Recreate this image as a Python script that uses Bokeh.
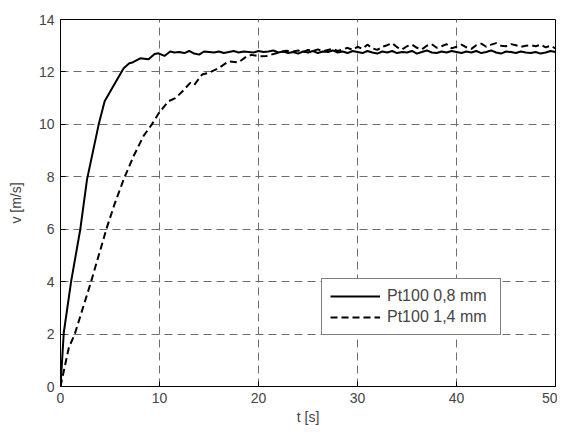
import numpy as np
from bokeh.plotting import figure
from bokeh.models import Range1d, Legend, LegendItem, FixedTicker
from bokeh.embed import file_html
from bokeh.resources import INLINE

# ---- data ----
t_thin_rise = [0, 0.33, 1.07, 2.0, 2.68, 3.86, 4.46, 5.4, 6.38, 6.95, 7.28, 8.06, 8.9, 9.5, 9.9, 10.5, 11.08]
v_thin_rise = [0, 2.05, 4.0, 6.0, 7.9, 10.0, 10.88, 11.5, 12.14, 12.33, 12.36, 12.52, 12.48, 12.68, 12.71, 12.61, 12.78]
t_thin_flat = list(np.round(np.arange(11.5, 50.001, 0.5), 2))
v_thin_flat = [12.74, 12.76, 12.72, 12.80, 12.70, 12.66, 12.78, 12.76, 12.74, 12.78,
               12.72, 12.76, 12.80, 12.74, 12.78, 12.76, 12.74, 12.80, 12.76, 12.78,
               12.82, 12.74, 12.78, 12.72, 12.76, 12.70, 12.78, 12.74, 12.80, 12.72,
               12.78, 12.76, 12.82, 12.74, 12.78, 12.72, 12.80, 12.76, 12.72, 12.80,
               12.74, 12.70, 12.78, 12.74, 12.80, 12.72, 12.76, 12.74, 12.80, 12.70,
               12.76, 12.82, 12.74, 12.72, 12.78, 12.74, 12.80, 12.76, 12.72, 12.78,
               12.74, 12.80, 12.72, 12.76, 12.82, 12.74, 12.70, 12.78, 12.76, 12.72,
               12.78, 12.74, 12.72, 12.76, 12.70, 12.74, 12.80, 12.76]

t_thick_rise = [0, 0.84, 1.44, 3.09, 4.63, 5.47, 6.43, 7.4, 8.39, 9.23, 9.97, 10.9, 11.6, 12.3,
                13.1, 13.5, 14.3, 14.94, 15.95, 16.96, 17.97, 18.8, 19.3, 20.0, 20.8, 21.8, 22.8]
v_thick_rise = [0, 1.48, 2.0, 4.0, 6.0, 6.97, 7.95, 8.8, 9.56, 10.0, 10.45, 10.88, 11.0, 11.25,
                11.58, 11.5, 11.9, 11.96, 12.14, 12.4, 12.36, 12.59, 12.65, 12.6, 12.61, 12.71, 12.81]
t_thick_flat = list(np.round(np.arange(23.5, 50.001, 0.5), 2))
v_thick_flat = [12.78, 12.82, 12.76, 12.84, 12.80, 12.86, 12.78, 12.84, 12.88, 12.80,
                12.86, 12.92, 12.84, 12.96, 12.88, 13.04, 12.90, 12.84, 12.96, 13.02,
                13.10, 12.94, 12.86, 12.98, 13.04, 12.92, 12.86, 13.00, 13.06, 12.92,
                12.98, 13.06, 12.90, 12.96, 13.04, 12.94, 12.88, 13.02, 13.08, 12.96,
                13.04, 13.10, 13.00, 12.98, 13.06, 13.02, 12.96, 13.00, 13.02, 12.98,
                13.04, 12.94, 13.00, 12.90]

labels = ["Pt100 0,8 mm", "Pt100 1,4 mm"]
x_ticks = [0, 10, 20, 30, 40, 50]
y_ticks = [0, 2, 4, 6, 8, 10, 12, 14]

t1 = t_thin_rise + t_thin_flat
v1 = v_thin_rise + v_thin_flat
t2 = t_thick_rise + t_thick_flat
v2 = v_thick_rise + v_thick_flat

FONT = "Liberation Sans"

p = figure(width=557, height=427, output_backend="svg", toolbar_location=None,
           x_range=Range1d(0, 50), y_range=Range1d(0, 14),
           min_border_left=60, min_border_right=2, min_border_top=19, min_border_bottom=38)
p.background_fill_color = "white"
p.border_fill_color = "white"
p.outline_line_color = "black"
p.outline_line_width = 1

for ax, ticks, lab in ((p.xaxis[0], x_ticks, "t [s]"), (p.yaxis[0], y_ticks, "v [m/s]")):
    ax.ticker = FixedTicker(ticks=ticks)
    ax.axis_label = lab
    ax.axis_label_text_font = FONT
    ax.axis_label_text_font_size = "14px"
    ax.axis_label_text_font_style = "normal"
    ax.major_label_text_font = FONT
    ax.major_label_text_font_size = "14px"
    ax.major_tick_in = 5
    ax.major_tick_out = 0
    ax.minor_tick_line_color = None
    ax.axis_line_color = "black"
    ax.major_tick_line_color = "black"
    ax.major_label_standoff = 6
p.xaxis.axis_label_standoff = 3
p.yaxis.axis_label_standoff = 12

for g in (p.xgrid[0], p.ygrid[0]):
    g.grid_line_color = "#6e6e6e"
    g.grid_line_dash = "8 5"
    g.grid_line_width = 1
p.xgrid.ticker = FixedTicker(ticks=x_ticks)
p.ygrid.ticker = FixedTicker(ticks=y_ticks)

r1 = p.line(t1, v1, line_color="black", line_width=2)
r2 = p.line(t2, v2, line_color="black", line_width=2, line_dash="7 4")

legend = Legend(items=[LegendItem(label=labels[0], renderers=[r1]),
                       LegendItem(label=labels[1], renderers=[r2])],
                location=(261, 51))
legend.label_text_font = FONT
legend.label_text_font_size = "16px"
legend.border_line_color = "black"
legend.border_line_width = 1
legend.background_fill_color = "white"
legend.background_fill_alpha = 1
legend.padding = 8
legend.spacing = 3
legend.margin = 0
legend.glyph_width = 50
legend.glyph_height = 18
legend.label_height = 18
legend.label_width = 105
legend.label_standoff = 7
p.add_layout(legend, "center")

open("out.html", "w").write(file_html(p, INLINE))
